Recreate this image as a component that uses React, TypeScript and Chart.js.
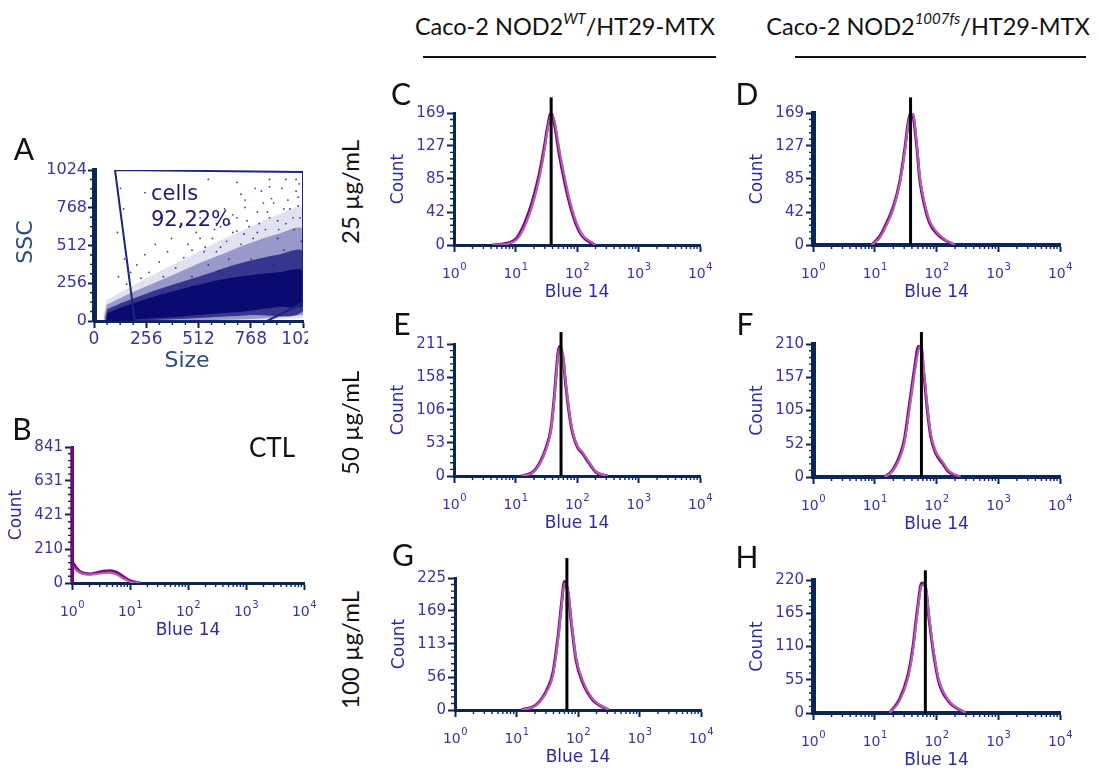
import React, { useEffect, useRef } from 'react';
import { Chart, registerables } from 'chart.js';
Chart.register(...registerables);

const AXIS = '#0c2557';
const TICK_TXT = '#3535a6';
const TITLE_TXT = '#2c2c9e';
const PURPLE1 = '#7a0a7a';
const PURPLE2 = '#b060b0';
const MONO = '"DejaVu Sans", Verdana, sans-serif';
const CAL = 'Lato, "Open Sans", sans-serif';

// ---- log-axis decades (tick labels 10^0 .. 10^4) ----
const X_DECADES = [1, 10, 100, 1000, 10000];
const X_EXP = ['0', '1', '2', '3', '4'];

// ---- Panel A (Size vs SSC) ----
const A_TICKS = [0, 256, 512, 768, 1024];
const GATE_X = [103, 1024, 1024, 848, 200, 103];
const GATE_Y = [1024, 1010, 122, 0, 0, 1024];
const CORE_X = [65, 150, 256, 384, 512, 640, 768, 900, 1024, 1024, 900, 768, 640, 512, 384, 256, 150, 65, 65];
const CORE_Y = [55, 100, 150, 200, 245, 285, 310, 330, 340, 110, 95, 70, 55, 40, 25, 15, 5, 3, 55];
const L3_X = [64, 150, 256, 384, 512, 640, 768, 900, 1024, 1024, 768, 512, 256, 64, 64];
const L3_Y = [80, 130, 185, 245, 300, 360, 410, 450, 470, 70, 40, 20, 5, 0, 80];
const L2_X = [62, 150, 256, 384, 512, 640, 768, 900, 1024, 1024, 62, 62];
const L2_Y = [110, 170, 235, 310, 390, 460, 530, 590, 620, 40, 0, 110];
const L1_X = [60, 150, 256, 384, 512, 640, 768, 900, 1024, 1024, 60, 60];
const L1_Y = [140, 210, 290, 380, 470, 560, 640, 720, 760, 20, 0, 140];
const A_DOT_X = [120, 150, 160, 180, 210, 230, 250, 270, 300, 320, 340, 360, 380, 400, 420, 440, 460, 480, 500, 520, 540, 560, 580, 600, 620, 640, 660, 680, 700, 720, 740, 760, 780, 800, 820, 840, 860, 880, 900, 920, 940, 960, 980, 1000, 1010, 130, 250, 560, 700, 860, 990, 115, 145, 330, 450, 610, 770, 930, 1015, 880,
  600, 650, 700, 750, 800, 850, 900, 950, 1000, 620, 680, 740, 810, 870, 930, 990, 720, 790, 860, 940, 1005, 545, 590, 665, 735, 830, 905, 975, 480, 520];
const A_DOT_Y = [300, 420, 250, 330, 380, 290, 450, 330, 520, 400, 300, 470, 560, 360, 640, 430, 520, 300, 600, 700, 470, 380, 560, 660, 500, 760, 420, 600, 700, 520, 820, 640, 560, 740, 880, 620, 700, 800, 560, 900, 660, 760, 620, 840, 700, 900, 870, 960, 940, 960, 960, 600, 760, 180, 240, 340, 420, 480, 540, 380,
  470, 540, 610, 680, 600, 740, 680, 820, 780, 640, 720, 770, 660, 830, 760, 880, 860, 900, 910, 960, 930, 500, 620, 660, 590, 800, 620, 700, 480, 560];

// ---- Panel B (CTL) ----
const B_TICKS = [0, 210, 421, 631, 841];
const B_SPIKE = 841;
const B_X = [1, 1.04, 1.3, 1.58, 2.06, 2.69, 3.47, 4.54, 5.9, 7.7, 10, 12.9, 15];
const B_Y1 = [130, 122, 76, 60, 56, 64, 72, 76, 66, 39, 14, 4, 0];
const B_Y2 = [110, 100, 68, 56, 52, 56, 62, 64, 52, 28, 8, 2, 0];

// ---- Panel C ----
const C_TICKS = [0, 42, 85, 127, 169];
const C_X = [4.3, 7.9, 10.2, 13.2, 17, 20.4, 24.5, 29.5, 33, 38, 42.7, 51, 62, 76, 95, 123, 178, 200];
const C_Y1 = [0, 3, 8, 23, 45, 66, 92, 126, 150, 169, 156, 118, 83, 53, 28, 11, 2, 0];
const C_Y2 = [0, 2, 6, 19, 40, 60, 86, 120, 146, 166, 160, 125, 90, 58, 32, 13, 3, 0];
const C_MEDIAN = 38;

// ---- Panel D ----
const D_TICKS = [0, 42, 85, 127, 169];
const D_X = [8.9, 12, 15.5, 20, 25.7, 31, 34.7, 38, 41.7, 47.9, 53.7, 64.6, 77.6, 100, 138, 200];
const D_Y1 = [0, 11, 28, 49, 83, 126, 156, 169, 165, 126, 83, 49, 28, 15, 6, 0];
const D_Y2 = [0, 9, 25, 46, 80, 122, 152, 166, 168, 130, 88, 53, 31, 17, 7, 0];
const D_MEDIAN = 38;

// ---- Panel E ----
const E_TICKS = [0, 53, 106, 158, 211];
const E_X = [12.3, 19, 24.5, 31.6, 38, 42.7, 49, 52.5, 58.9, 66, 75.9, 85, 102, 123, 158, 204, 316];
const E_Y1 = [0, 6, 20, 46, 78, 127, 196, 207, 191, 143, 95, 68, 46, 36, 20, 6, 0];
const E_Y2 = [0, 5, 18, 43, 74, 122, 190, 204, 194, 148, 99, 71, 48, 38, 22, 7, 0];
const E_MEDIAN = 55;

// ---- Panel F ----
const F_TICKS = [0, 52, 105, 157, 210];
const F_X = [14.5, 19.5, 25, 30, 36, 43.7, 51, 56, 63, 71, 81, 98, 126, 158, 245];
const F_Y1 = [0, 11, 32, 58, 111, 169, 206, 206, 158, 106, 63, 37, 21, 8, 0];
const F_Y2 = [0, 9, 28, 52, 102, 160, 200, 208, 165, 112, 68, 40, 24, 10, 0];
const F_MEDIAN = 57;

// ---- Panel G ----
const G_TICKS = [0, 56, 113, 169, 225];
const G_X = [12, 21, 31, 39, 48, 54, 60, 69, 78, 93, 120, 174, 316];
const G_Y1 = [0, 9, 34, 63, 131, 182, 219, 199, 148, 85, 46, 17, 0];
const G_Y2 = [0, 8, 31, 58, 124, 176, 215, 204, 154, 90, 50, 19, 0];
const G_MEDIAN = 66;

// ---- Panel H ----
const H_TICKS = [0, 55, 110, 165, 220];
const H_X = [17.4, 25, 34, 41, 49, 57.5, 66, 76, 91, 110, 158, 295];
const H_Y1 = [0, 22, 60, 105, 171, 215, 209, 154, 94, 50, 19, 0];
const H_Y2 = [0, 19, 55, 98, 164, 211, 213, 160, 99, 54, 21, 0];
const H_MEDIAN = 66;

const decorPlugin: any = {
  id: 'decor',
  afterDraw(chart: any, _a: any, o: any) {
    const ctx = chart.ctx;
    const xs = chart.scales.x;
    const ys = chart.scales.y;
    const axisY = xs.top;
    const axisX = ys.right;
    ctx.save();
    ctx.strokeStyle = AXIS;
    ctx.lineWidth = 1.4;
    ctx.beginPath();
    for (const v of o.xMinor) {
      const px = xs.getPixelForValue(v);
      ctx.moveTo(px, axisY);
      ctx.lineTo(px, axisY + o.minorLen);
    }
    for (const v of o.yMinor) {
      const py = ys.getPixelForValue(v);
      ctx.moveTo(axisX, py);
      ctx.lineTo(axisX - o.minorLen, py);
    }
    ctx.stroke();
    if (o.supLabels) {
      ctx.fillStyle = TICK_TXT;
      ctx.textAlign = 'left';
      ctx.textBaseline = 'alphabetic';
      X_DECADES.forEach((v, i) => {
        const px = xs.getPixelForValue(v);
        ctx.font = `14px ${MONO}`;
        const w1 = ctx.measureText('10').width;
        ctx.font = `10px ${MONO}`;
        const w2 = ctx.measureText(X_EXP[i]).width;
        const x0 = px - (w1 + w2) / 2;
        ctx.font = `14px ${MONO}`;
        ctx.fillText('10', x0, axisY + o.labelBase);
        ctx.font = `10px ${MONO}`;
        ctx.fillText(X_EXP[i], x0 + w1 + 0.5, axisY + o.labelBase - 8);
      });
    }
    ctx.restore();
  },
};

function logMinor(): number[] {
  const out: number[] = [];
  for (let d = 0; d < 4; d++) for (let m = 2; m <= 9; m++) out.push(m * Math.pow(10, d));
  return out;
}
function linMinor(ticks: number[], div: number): number[] {
  const out: number[] = [];
  for (let i = 0; i < ticks.length - 1; i++)
    for (let k = 1; k < div; k++) out.push(ticks[i] + ((ticks[i + 1] - ticks[i]) * k) / div);
  return out;
}

type HistCfg = {
  L: number; T: number; R: number; B: number;
  yTicks: number[];
  xs: number[]; y1: number[]; y2: number[];
  median?: number; medianTop?: number;
  spike?: number;
  yw: number; xw: number;
};

const Y_AXIS_W = 74;
const X_AXIS_H = 62;

function Hist({ p }: { p: HistCfg }) {
  const ref = useRef<HTMLCanvasElement>(null);
  const left = p.L - Y_AXIS_W;
  const top = p.T - 30;
  const width = p.R - left + 20;
  const height = p.B - top + X_AXIS_H + 6;
  useEffect(() => {
    const datasets: any[] = [];
    if (p.median != null) {
      datasets.push({
        data: [{ x: p.median, y: 0 }, { x: p.median, y: p.medianTop }],
        borderColor: '#000', borderWidth: 3, pointRadius: 0, clip: false, tension: 0,
      });
    }
    if (p.spike != null) {
      datasets.push({
        data: [{ x: 1, y: 0 }, { x: 1, y: p.spike }],
        borderColor: PURPLE1, borderWidth: 3.5, pointRadius: 0, tension: 0, clip: false,
      });
    }
    datasets.push({
      data: p.xs.map((x, i) => ({ x, y: p.y2[i] })),
      borderColor: PURPLE2, borderWidth: 2.2, pointRadius: 0, cubicInterpolationMode: 'monotone',
    });
    datasets.push({
      data: p.xs.map((x, i) => ({ x, y: p.y1[i] })),
      borderColor: PURPLE1, borderWidth: 3, pointRadius: 0, cubicInterpolationMode: 'monotone',
    });
    const ymax = p.yTicks[p.yTicks.length - 1];
    const chart = new Chart(ref.current as HTMLCanvasElement, {
      type: 'line',
      data: { datasets },
      plugins: [decorPlugin],
      options: {
        animation: false,
        responsive: false,
        maintainAspectRatio: false,
        events: [],
        layout: { padding: { left: 0, top: 30, right: 20, bottom: 6 } },
        plugins: {
          legend: { display: false },
          tooltip: { enabled: false },
          decor: { xMinor: logMinor(), yMinor: linMinor(p.yTicks, 5), minorLen: 4, supLabels: true, labelBase: 33 },
        } as any,
        scales: {
          x: {
            type: 'logarithmic', position: 'bottom', min: 1, max: 10000,
            afterBuildTicks: (s: any) => { s.ticks = X_DECADES.map((v) => ({ value: v })); },
            afterFit: (s: any) => { s.height = X_AXIS_H; },
            ticks: { display: false },
            grid: { drawOnChartArea: false, drawTicks: true, tickLength: 7, tickColor: AXIS, tickWidth: 2 },
            border: { display: true, color: AXIS, width: p.xw },
            title: { display: true, text: 'Blue 14', color: TITLE_TXT, font: { family: MONO, size: 17 }, padding: { top: 0, bottom: 4 } },
          },
          y: {
            type: 'linear', min: 0, max: ymax,
            afterBuildTicks: (s: any) => { s.ticks = p.yTicks.map((v) => ({ value: v })); },
            afterFit: (s: any) => { s.width = Y_AXIS_W; },
            ticks: { color: TICK_TXT, font: { family: MONO, size: 15 }, padding: 2, callback: (v: any) => String(v) },
            grid: { drawOnChartArea: false, drawTicks: true, tickLength: 7, tickColor: AXIS, tickWidth: 2 },
            border: { display: true, color: AXIS, width: p.yw },
            title: { display: true, text: 'Count', color: TITLE_TXT, font: { family: MONO, size: 17 }, padding: { top: 8, bottom: 0 } },
          },
        } as any,
      },
    } as any);
    return () => chart.destroy();
  }, []);
  return (
    <canvas ref={ref} width={width} height={height}
      style={{ position: 'absolute', left, top, width, height }} />
  );
}

function ScatterA() {
  const ref = useRef<HTMLCanvasElement>(null);
  useEffect(() => {
    const pts = (xs: number[], ys: number[]) => xs.map((x, i) => ({ x, y: ys[i] }));
    const minor = [64, 128, 192, 320, 384, 448, 576, 640, 704, 832, 896, 960];
    const layer = (xs: number[], ys: number[], bg: string) => ({
      data: pts(xs, ys), showLine: true, borderWidth: 0, borderColor: 'rgba(0,0,0,0)', backgroundColor: bg,
      pointRadius: 0, fill: 'shape', tension: 0.35,
    });
    const chart = new Chart(ref.current as HTMLCanvasElement, {
      type: 'scatter',
      data: {
        datasets: [
          { data: pts(GATE_X, GATE_Y), showLine: true, borderColor: '#1d2580', borderWidth: 2, pointRadius: 0, fill: false, tension: 0 },
          { data: pts(A_DOT_X, A_DOT_Y), showLine: false, pointRadius: 0.9, borderWidth: 0, backgroundColor: 'rgba(25,25,140,0.85)' },
          layer(CORE_X, CORE_Y, '#0a0a70'),
          layer(L3_X, L3_Y, 'rgba(12,12,118,0.7)'),
          layer(L2_X, L2_Y, 'rgba(20,20,130,0.35)'),
          layer(L1_X, L1_Y, 'rgba(40,40,150,0.14)'),
        ],
      },
      plugins: [decorPlugin],
      options: {
        animation: false,
        responsive: false,
        maintainAspectRatio: false,
        events: [],
        layout: { padding: { left: 0, top: 20, right: 27, bottom: 19 } },
        plugins: {
          legend: { display: false },
          tooltip: { enabled: false },
          decor: { xMinor: minor, yMinor: minor, minorLen: 4, supLabels: false },
        } as any,
        scales: {
          x: {
            type: 'linear', min: 0, max: 1024,
            afterBuildTicks: (s: any) => { s.ticks = A_TICKS.map((v) => ({ value: v })); },
            afterFit: (s: any) => { s.height = 40; },
            ticks: { color: TICK_TXT, font: { family: MONO, size: 17 }, padding: 1, maxRotation: 0, autoSkip: false, callback: (v: any) => String(v) },
            grid: { drawOnChartArea: false, drawTicks: true, tickLength: 7, tickColor: AXIS, tickWidth: 2 },
            border: { display: true, color: AXIS, width: 3 },
          },
          y: {
            type: 'linear', min: 0, max: 1024,
            afterBuildTicks: (s: any) => { s.ticks = A_TICKS.map((v) => ({ value: v })); },
            afterFit: (s: any) => { s.width = 94; },
            ticks: { color: TICK_TXT, font: { family: MONO, size: 16 }, padding: 1, callback: (v: any) => String(v) },
            grid: { drawOnChartArea: false, drawTicks: true, tickLength: 6, tickColor: AXIS, tickWidth: 2 },
            border: { display: true, color: AXIS, width: 5 },
          },
        } as any,
      },
    } as any);
    return () => chart.destroy();
  }, []);
  return (
    <div style={{ position: 'absolute', left: 0, top: 150, width: 308, height: 230, overflow: 'hidden' }}>
      <canvas ref={ref} width={330} height={230} style={{ position: 'absolute', left: 0, top: 0, width: 330, height: 230 }} />
    </div>
  );
}

const PANELS: HistCfg[] = [
  { L: 72, T: 447, R: 304, B: 583, yTicks: B_TICKS, xs: B_X, y1: B_Y1, y2: B_Y2, spike: B_SPIKE, yw: 3, xw: 3 },
  { L: 454, T: 113, R: 700, B: 245, yTicks: C_TICKS, xs: C_X, y1: C_Y1, y2: C_Y2, median: C_MEDIAN, medianTop: 189, yw: 3, xw: 3 },
  { L: 813, T: 113, R: 1060, B: 245, yTicks: D_TICKS, xs: D_X, y1: D_Y1, y2: D_Y2, median: D_MEDIAN, medianTop: 189, yw: 5, xw: 4 },
  { L: 454, T: 344, R: 700, B: 476, yTicks: E_TICKS, xs: E_X, y1: E_Y1, y2: E_Y2, median: E_MEDIAN, medianTop: 230, yw: 3, xw: 3 },
  { L: 813, T: 344, R: 1060, B: 477, yTicks: F_TICKS, xs: F_X, y1: F_Y1, y2: F_Y2, median: F_MEDIAN, medianTop: 229, yw: 5, xw: 4 },
  { L: 455, T: 578, R: 701, B: 710, yTicks: G_TICKS, xs: G_X, y1: G_Y1, y2: G_Y2, median: G_MEDIAN, medianTop: 259, yw: 3, xw: 3 },
  { L: 813, T: 580, R: 1060, B: 713, yTicks: H_TICKS, xs: H_X, y1: H_Y1, y2: H_Y2, median: H_MEDIAN, medianTop: 236, yw: 5, xw: 4 },
];

function Txt({ x, y, size, family, color, rotate, children, weight }: any) {
  return (
    <div style={{
      position: 'absolute', left: x, top: y, transform: `translate(-50%, -50%)${rotate ? ' rotate(-90deg)' : ''}`,
      fontFamily: family, fontSize: size, color, lineHeight: 1, whiteSpace: 'nowrap', fontWeight: weight || 400,
    }}>{children}</div>
  );
}

const SUP = { fontStyle: 'italic', fontSize: 15, verticalAlign: 'top', position: 'relative', top: -4 } as any;

export default function App() {
  return (
    <div style={{ position: 'fixed', left: 0, top: 0, width: 1101, height: 771, background: '#fff', overflow: 'hidden' }}>
      <ScatterA />
      {PANELS.map((p, i) => <Hist key={i} p={p} />)}

      {/* headers */}
      <Txt x={565} y={27} size={23.5} family={CAL} color="#111">Caco-2 NOD2<sup style={SUP}>WT</sup>/HT29-MTX</Txt>
      <div style={{ position: 'absolute', left: 423, top: 56, width: 293, height: 1.5, background: '#111' }} />
      <Txt x={928} y={27} size={23.5} family={CAL} color="#111">Caco-2 NOD2<sup style={SUP}>1007fs</sup>/HT29-MTX</Txt>
      <div style={{ position: 'absolute', left: 795, top: 56, width: 291, height: 1.5, background: '#111' }} />

      {/* panel letters */}
      <Txt x={24} y={148} size={30} family={CAL} color="#111">A</Txt>
      <Txt x={22} y={428} size={30} family={CAL} color="#111">B</Txt>
      <Txt x={401} y={93} size={30} family={CAL} color="#111">C</Txt>
      <Txt x={747} y={93} size={30} family={CAL} color="#111">D</Txt>
      <Txt x={402} y={323} size={30} family={CAL} color="#111">E</Txt>
      <Txt x={745} y={323} size={30} family={CAL} color="#111">F</Txt>
      <Txt x={403} y={554} size={30} family={CAL} color="#111">G</Txt>
      <Txt x={747} y={556} size={30} family={CAL} color="#111">H</Txt>
      <Txt x={272} y={447} size={26} family={CAL} color="#111">CTL</Txt>

      {/* concentrations */}
      <Txt x={350} y={192} size={24} family={CAL} color="#111" rotate>25 µg/mL</Txt>
      <Txt x={350} y={423} size={24} family={CAL} color="#111" rotate>50 µg/mL</Txt>
      <Txt x={350} y={650} size={24} family={CAL} color="#111" rotate>100 µg/mL</Txt>

      {/* panel A texts */}
      <div style={{ position: 'absolute', left: 151, top: 180, fontFamily: MONO, fontSize: 21, lineHeight: '26px', color: '#1b1b72' }}>
        cells<br />92,22%
      </div>
      <Txt x={25} y={242} size={22} family={MONO} color="#2b4c7e" rotate>SSC</Txt>
      <Txt x={187} y={360} size={22} family={MONO} color="#2b4c7e">Size</Txt>
    </div>
  );
}
